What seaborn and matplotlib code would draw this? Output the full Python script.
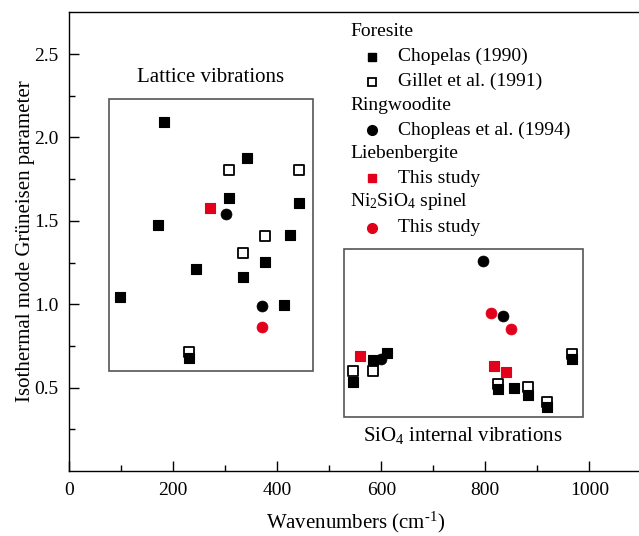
import numpy as np
import pandas as pd
import matplotlib
matplotlib.use("Agg")
import matplotlib.pyplot as plt
import seaborn as sns
from matplotlib.patches import Rectangle
from matplotlib.lines import Line2D

# ---- data ----
chopelas_x = [182.7, 341, 306.5, 442, 170.6, 425, 375.8, 243.7, 333.5, 98, 413.5, 230.8,
              546, 584.6, 610.4, 823.8, 855.2, 881.5, 919.2, 967.3]
chopelas_y = [2.094, 1.875, 1.635, 1.605, 1.475, 1.415, 1.253, 1.213, 1.165, 1.045, 0.993, 0.676,
              0.535, 0.665, 0.706, 0.49, 0.50, 0.456, 0.385, 0.67]

gillet_x = [306.5, 441.7, 375.8, 333.5, 230.8, 546, 584.6, 823.8, 881.5, 919.2, 967.3]
gillet_y = [1.806, 1.806, 1.407, 1.305, 0.715, 0.60, 0.60, 0.52, 0.502, 0.414, 0.701]

ringwoodite_x = [301.3, 371, 598.8, 795.6, 833.5]
ringwoodite_y = [1.543, 0.987, 0.67, 1.261, 0.927]

liebenbergite_x = [271, 559, 816.7, 839.2]
liebenbergite_y = [1.577, 0.69, 0.63, 0.592]

spinel_x = [370.6, 811.5, 849.4]
spinel_y = [0.862, 0.949, 0.853]

x_ticks = [0, 200, 400, 600, 800, 1000]
y_ticks = [0.5, 1.0, 1.5, 2.0, 2.5]

RED = "#e2001a"

sns.set_style("ticks")
plt.rcParams["font.family"] = ["Liberation Serif", "DejaVu Serif"]
plt.rcParams["mathtext.fontset"] = "custom"
plt.rcParams["mathtext.rm"] = "Liberation Serif"
plt.rcParams["mathtext.it"] = "Liberation Serif:italic"
plt.rcParams["font.size"] = 14
for k in ["text.color", "axes.labelcolor", "xtick.color", "ytick.color", "axes.edgecolor"]:
    plt.rcParams[k] = "black"

W, H = 639, 536
fig = plt.figure(figsize=(W / 100, H / 100), dpi=100)
ax = fig.add_axes([69.3 / W, (H - 471) / H, 572 / W, (471 - 12) / H])

sq = dict(marker="s", s=50, linewidth=0.8)
ci = dict(marker="o", s=62, linewidth=0.5)

sns.scatterplot(x=gillet_x, y=gillet_y, ax=ax, marker="s", s=48, facecolor="white",
                edgecolor="black", linewidth=1.3, zorder=2)
sns.scatterplot(x=chopelas_x, y=chopelas_y, ax=ax, color="black", edgecolor="black",
                zorder=3, **sq)
sns.scatterplot(x=ringwoodite_x, y=ringwoodite_y, ax=ax, color="black", edgecolor="black",
                zorder=4, **ci)
sns.scatterplot(x=liebenbergite_x, y=liebenbergite_y, ax=ax, color=RED, edgecolor=RED,
                zorder=4, **sq)
sns.scatterplot(x=spinel_x, y=spinel_y, ax=ax, color=RED, edgecolor=RED, zorder=4, **ci)

# inset boxes
ax.add_patch(Rectangle((76.3, 0.60), 468.7 - 76.3, 2.23 - 0.60, fill=False,
                       edgecolor="#555555", linewidth=1.2, zorder=1))
ax.add_patch(Rectangle((528, 0.324), 987.9 - 528, 1.331 - 0.324, fill=False,
                       edgecolor="#555555", linewidth=1.2, zorder=1))
ax.text(272.5, 2.30, "Lattice vibrations", ha="center", va="bottom", fontsize=15)
ax.text(757, 0.21, "SiO$_4$ internal vibrations", ha="center", va="center", fontsize=15)

ax.set_xlim(0, 1100)
ax.set_ylim(0, 2.752)
ax.set_xticks(x_ticks)
ax.set_xticks(np.arange(100, 1100, 200), minor=True)
ax.set_yticks(y_ticks)
ax.set_yticks([0.25, 0.75, 1.25, 1.75, 2.25], minor=True)
ax.tick_params(which="both", direction="in", top=False, right=False, labelsize=14,
               width=1, color="black")
ax.tick_params(which="major", length=7, pad=8)
ax.tick_params(which="minor", length=4)
for s in ["left", "bottom", "top"]:
    ax.spines[s].set_visible(True)
    ax.spines[s].set_linewidth(1.0)
    ax.spines[s].set_color("black")
ax.spines["right"].set_visible(False)

ax.set_xlabel("Wavenumbers (cm$^{\\text{-1}}$)", fontsize=15, labelpad=8)
ax.set_ylabel("Isothermal mode Grüneisen parameter", fontsize=15, labelpad=-1)

# legend (manual, grouped)
def fx(px):
    return px / W

def fy(py):
    return 1 - py / H

rows = [
    ("head", "Foresite", None),
    ("item", "Chopelas (1990)", dict(marker="s", color="black", mfc="black", mec="black")),
    ("item", "Gillet et al. (1991)", dict(marker="s", color="black", mfc="white", mec="black", mew=1.3)),
    ("head", "Ringwoodite", None),
    ("item", "Chopleas et al. (1994)", dict(marker="o", color="black", mfc="black", mec="black")),
    ("head", "Liebenbergite", None),
    ("item", "This study", dict(marker="s", color=RED, mfc=RED, mec=RED)),
    ("head", "Ni$_2$SiO$_4$ spinel", None),
    ("item", "This study", dict(marker="o", color=RED, mfc=RED, mec=RED)),
]
ys = [31.7, 56.7, 81.7, 105, 130, 153.3, 178.3, 201.7, 228]
for (kind, label, mk), py in zip(rows, ys):
    if kind == "head":
        fig.text(fx(350), fy(py), label, ha="left", va="center", fontsize=14)
    else:
        ms = 6.3 if mk["marker"] == "s" else 7.0
        fig.add_artist(Line2D([fx(372)], [fy(py)], linestyle="none", markersize=ms,
                              transform=fig.transFigure, **mk))
        fig.text(fx(398), fy(py), label, ha="left", va="center", fontsize=14)

fig.savefig("out.png", dpi=100)
